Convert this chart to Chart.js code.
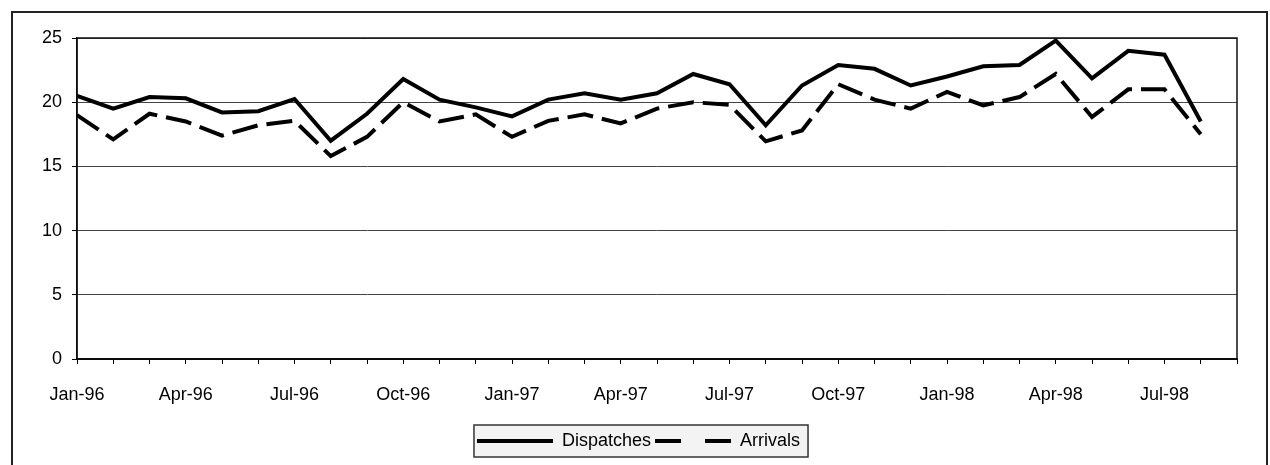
<!DOCTYPE html>
<html>
<head>
<meta charset="utf-8">
<script src="https://cdn.jsdelivr.net/npm/chart.js@4"></script>
<style>
    html, body { margin: 0; padding: 0; background: #fff; }
    .wrap { position: relative; width: 1270px; height: 465px; overflow: hidden; }
    .frame { position: absolute; left: 11px; top: 11px; width: 1253px; height: 470px; border: 2px solid #222; }
    canvas { position: absolute; left: 0; top: 0; }
</style>
</head>
<body>
<div class="wrap">
    <div class="frame"></div>
    <canvas id="myChart" width="1270" height="465"></canvas>
</div>
<script>
// months Jan-96 .. Aug-98, plus one empty slot the axis runs to
const months = ['Jan-96', 'Feb-96', 'Mar-96', 'Apr-96', 'May-96', 'Jun-96', 'Jul-96', 'Aug-96', 'Sep-96', 'Oct-96', 'Nov-96', 'Dec-96',
    'Jan-97', 'Feb-97', 'Mar-97', 'Apr-97', 'May-97', 'Jun-97', 'Jul-97', 'Aug-97', 'Sep-97', 'Oct-97', 'Nov-97', 'Dec-97',
    'Jan-98', 'Feb-98', 'Mar-98', 'Apr-98', 'May-98', 'Jun-98', 'Jul-98', 'Aug-98', 'Sep-98'];

const dispatches = [20.5, 19.5, 20.4, 20.3, 19.2, 19.3, 20.25, 17.0, 19.1, 21.8, 20.2, 19.6,
    18.9, 20.2, 20.7, 20.2, 20.7, 22.2, 21.4, 18.2, 21.3, 22.9, 22.6, 21.3,
    22.0, 22.8, 22.9, 24.8, 21.85, 24.0, 23.7, 18.5];

const arrivals = [19.0, 17.1, 19.1, 18.5, 17.4, 18.2, 18.55, 15.8, 17.3, 20.0, 18.5, 19.05,
    17.3, 18.55, 19.05, 18.35, 19.5, 20.0, 19.8, 16.95, 17.8, 21.4, 20.2, 19.5,
    20.8, 19.75, 20.4, 22.2, 18.85, 21.0, 21.0, 17.5];

const yTicks = [0, 5, 10, 15, 20, 25];
const labelEvery = 3;

const font = { family: "'Liberation Sans', Arial, sans-serif", size: 18 };

// plot frame + boxed legend
const framePlugin = {
    id: 'frame',
    beforeDatasetsDraw(chart) {
        const a = chart.chartArea;
        const c = chart.ctx;
        c.save();
        c.strokeStyle = '#111';
        c.lineWidth = 1.5;
        c.strokeRect(a.left, a.top, a.right - a.left, a.bottom - a.top);
        c.restore();
    },
    beforeDraw(chart) {
        const boxes = chart.legend.legendHitBoxes;
        if (!boxes || !boxes.length) return;
        const first = boxes[0], last = boxes[boxes.length - 1];
        const c = chart.ctx;
        const x0 = first.left - 3, x1 = last.left + last.width + 8;
        const y0 = first.top - 7, y1 = first.top + first.height + 7;
        c.save();
        c.fillStyle = '#f3f3f3';
        c.fillRect(x0, y0, x1 - x0, y1 - y0);
        c.strokeStyle = '#333';
        c.lineWidth = 1.5;
        c.strokeRect(x0, y0, x1 - x0, y1 - y0);
        c.restore();
    }
};

const ctx = document.getElementById('myChart');

new Chart(ctx, {
    type: 'line',
    data: {
        labels: months,
        datasets: [
            {
                label: 'Dispatches',
                data: dispatches,
                borderColor: '#000',
                backgroundColor: '#000',
                borderWidth: 4,
                pointRadius: 0,
                tension: 0,
                fill: false
            },
            {
                label: 'Arrivals',
                data: arrivals,
                borderColor: '#000',
                backgroundColor: '#000',
                borderWidth: 4,
                borderDash: [26, 9],
                pointRadius: 0,
                tension: 0,
                fill: false
            }
        ]
    },
    options: {
        responsive: false,
        animation: false,
        layout: { padding: { left: 40, right: 33, top: 38, bottom: 5 } },
        scales: {
            x: {
                offset: false,
                afterFit: s => { s.height = 69; },
                border: { color: '#000', width: 2 },
                grid: { drawOnChartArea: false, drawTicks: true, tickLength: 5, color: '#000' },
                ticks: {
                    autoSkip: false,
                    maxRotation: 0,
                    padding: 20,
                    color: '#000',
                    font: font,
                    callback: (v, i) => (i % labelEvery === 0 && i < dispatches.length) ? months[i] : ''
                }
            },
            y: {
                min: yTicks[0],
                max: yTicks[yTicks.length - 1],
                afterFit: s => { s.width = 37; },
                afterBuildTicks: s => { s.ticks = yTicks.map(v => ({ value: v })); },
                border: { color: '#000', width: 1.5 },
                grid: { color: '#444', lineWidth: 1, tickLength: 5, tickColor: '#000' },
                ticks: { padding: 10, color: '#000', font: font }
            }
        },
        plugins: {
            legend: {
                position: 'bottom',
                labels: {
                    usePointStyle: true,
                    pointStyle: 'line',
                    pointStyleWidth: 76,
                    padding: 4,
                    color: '#000',
                    font: font,
                    // point style drops the dash; legend sample shows two long dashes like the original
                    generateLabels: chart => Chart.defaults.plugins.legend.labels.generateLabels(chart)
                        .map((item, i) => ({ ...item, lineWidth: 4, lineDash: chart.data.datasets[i].borderDash ? [26, 24] : [] }))
                }
            },
            tooltip: { enabled: false }
        }
    },
    plugins: [framePlugin]
});
</script>
</body>
</html>
